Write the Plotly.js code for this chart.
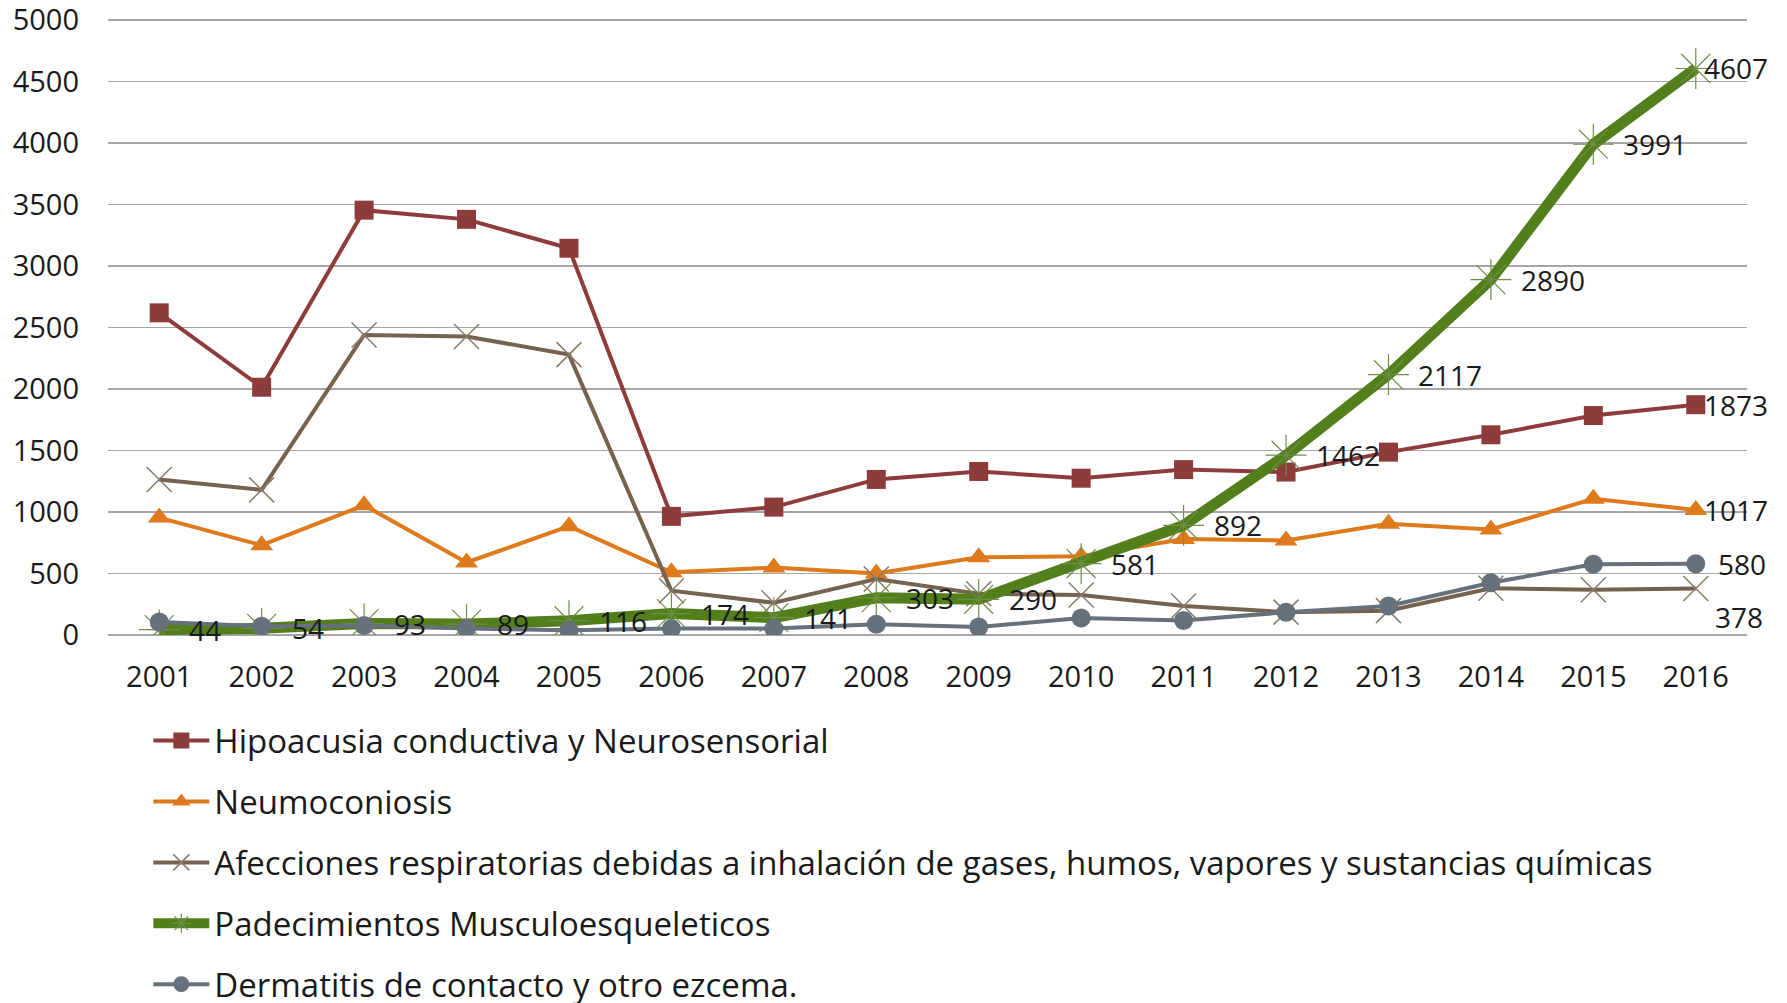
<!DOCTYPE html>
<html>
<head>
<meta charset="utf-8">
<script src="https://cdn.plot.ly/plotly-3.0.1.min.js"></script>
<style>html,body{margin:0;padding:0;background:#fff;}#chart{width:1787px;height:1003px;}</style>
</head>
<body>
<div id="chart"></div>
<script>
const years = ['2001','2002','2003','2004','2005','2006','2007','2008','2009','2010','2011','2012','2013','2014','2015','2016'];
const hipoacusia = [2620,2015,3455,3380,3145,965,1040,1265,1330,1275,1345,1325,1487,1628,1785,1873];
const neumoconiosis = [955,730,1055,590,885,510,548,500,632,640,780,768,905,858,1108,1017];
const afecciones = [1265,1180,2440,2428,2280,360,262,455,335,325,236,186,198,380,368,378];
const musculo = [44,54,93,89,116,174,141,303,290,581,892,1462,2117,2890,3991,4607];
const dermatitis = [105,72,78,52,38,52,52,88,65,138,118,185,236,425,575,580];
const yTicks = [0,500,1000,1500,2000,2500,3000,3500,4000,4500,5000];

const names = [
  'Hipoacusia conductiva y Neurosensorial',
  'Neumoconiosis',
  'Afecciones respiratorias debidas a inhalación de gases, humos, vapores y sustancias químicas',
  'Padecimientos Musculoesqueleticos',
  'Dermatitis de contacto y otro ezcema.'
];

const FONT = '"Open Sans", Lato, sans-serif';
const TXT = '#1a1a1a';

const traces = [
  {y: hipoacusia, name: names[0], line: {color: '#8E3B3B', width: 4},
   marker: {symbol: 'square', size: 19, color: '#8E3B3B'}},
  {y: neumoconiosis, name: names[1], line: {color: '#DF7A1C', width: 4},
   marker: {symbol: 'triangle-up', size: 20, color: '#DF7A1C'}},
  {y: afecciones, name: names[2], line: {color: '#76634F', width: 4},
   marker: {symbol: 'x-thin-open', size: 25, color: '#8A7A68', line: {color: '#8A7A68', width: 1.5}}},
  {y: musculo, name: names[3], line: {color: '#527F1C', width: 11},
   marker: {symbol: 'asterisk-open', size: 34, color: '#6E8F45', line: {color: '#6E8F45', width: 1.2}}},
  {y: dermatitis, name: names[4], line: {color: '#66717C', width: 4},
   marker: {symbol: 'circle', size: 19, color: '#66717C'}}
].map((t, i) => Object.assign({
  type: 'scatter', mode: 'lines+markers', x: years, legendgroup: 'g' + i
}, t));

const annotations = [];
musculo.forEach((v, i) => {
  const last = i === musculo.length - 1;
  annotations.push({x: i, y: v, xref: 'x', yref: 'y', text: String(v), showarrow: false,
    xanchor: 'left', yanchor: 'middle', xshift: last ? 6 : 28,
    font: {family: FONT, size: 28, color: TXT}});
});
const lastIdx = years.length - 1;
[[hipoacusia, 6, 0], [neumoconiosis, 6, 0], [dermatitis, 20, 0], [afecciones, 17, -28]].forEach(([arr, dx, dy]) => {
  annotations.push({x: lastIdx, y: arr[lastIdx], xref: 'x', yref: 'y', text: String(arr[lastIdx]),
    showarrow: false, xanchor: 'left', yanchor: 'middle', xshift: dx, yshift: dy,
    font: {family: FONT, size: 28, color: TXT}});
});

const layout = {
  width: 1787, height: 1003,
  margin: {l: 108, r: 40, t: 14, b: 368, autoexpand: false},
  paper_bgcolor: '#ffffff', plot_bgcolor: '#ffffff',
  font: {family: FONT, size: 28, color: TXT},
  showlegend: true,
  legend: {
    orientation: 'v', xref: 'container', x: 0.083, xanchor: 'left',
    yref: 'container', y: 0.2895, yanchor: 'top',
    font: {family: FONT, size: 33, color: TXT}, tracegroupgap: 15, itemwidth: 56,
    bgcolor: 'rgba(0,0,0,0)'
  },
  xaxis: {
    type: 'category', range: [-0.5, 15.5], showgrid: false, zeroline: false, showline: false,
    ticks: '', ticklabelstandoff: 22, tickangle: 0, tickfont: {family: FONT, size: 29, color: TXT}, fixedrange: true
  },
  yaxis: {
    range: [0, 5050], tickmode: 'array', tickvals: yTicks, ticktext: yTicks.map(String),
    showgrid: true, gridcolor: '#A6A6A6', gridwidth: 1.5,
    zeroline: true, zerolinecolor: '#A6A6A6', zerolinewidth: 1.5, showline: false,
    ticks: '', ticklabelstandoff: 28, ticklabeloverflow: 'allow',
    tickfont: {family: FONT, size: 29, color: TXT}, fixedrange: true
  },
  annotations: annotations
};

Plotly.newPlot('chart', traces, layout, {displayModeBar: false, staticPlot: true});
</script>
</body>
</html>
